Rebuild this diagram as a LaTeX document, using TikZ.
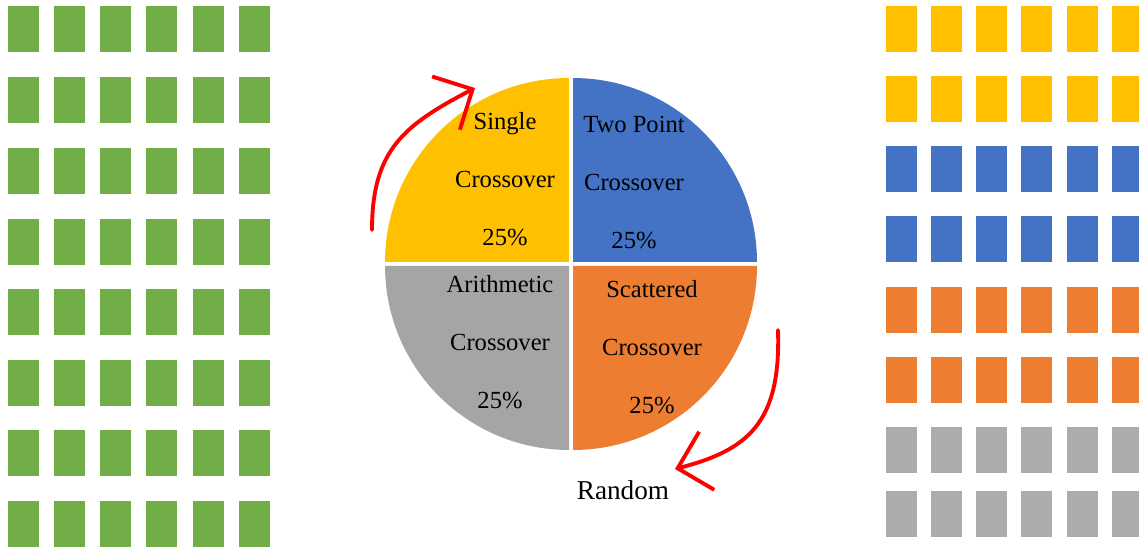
\documentclass[tikz,border=0pt]{standalone}
\usepackage{fontspec}
\setmainfont{Liberation Serif}
\usetikzlibrary{arrows.meta}
\definecolor{cgreen}{HTML}{70AD47}
\definecolor{cyellow}{HTML}{FFC000}
\definecolor{cblue}{HTML}{4472C4}
\definecolor{corange}{HTML}{ED7D31}
\definecolor{cgray}{HTML}{A5A5A5}
\definecolor{cgenegray}{HTML}{AEABAB}
\tikzset{
	slicelabel/.style={align=center,inner sep=0,font=\fontsize{14pt}{33pt}\selectfont},
	redarc/.style={draw=red,line width=2.2pt,line cap=round,-{Straight Barb[length=6mm,width=12mm]}}
}

\begin{document}
\begin{tikzpicture}[x=0.02cm,y=0.02cm]
\useasboundingbox (0,0) rectangle (1139,548);
\clip (0,0) rectangle (1139,548);
\foreach \y in {6,77,148,219,289,360,430,501}
	\foreach \x in {8,54,100,146,193,239}
		\fill[cgreen] (\x,548-\y) rectangle ++(31,-46);
\foreach \y/\c in {6/cyellow,76/cyellow,146/cblue,216/cblue,287/corange,357/corange,427/cgenegray,491/cgenegray}
	\foreach \x in {886,931,976,1021,1067,1112}
		\fill[\c] (\x,548-\y) rectangle ++(31,-46);
\fill[cyellow] (569,286)--++(-3.68cm,0) arc[start angle=180,end angle=90,radius=3.68cm]--cycle;
\fill[cblue] (573,286)--++(0,3.68cm) arc[start angle=90,end angle=0,radius=3.68cm]--cycle;
\fill[cgray] (569,282)--++(0,-3.68cm) arc[start angle=270,end angle=180,radius=3.68cm]--cycle;
\fill[corange] (573,282)--++(3.68cm,0) arc[start angle=0,end angle=-90,radius=3.68cm]--cycle;
\node[slicelabel] (single) at (505,369) {Single\\Crossover\\25\%};
\node[slicelabel] (twopoint) at (634,365) {Two Point\\Crossover\\25\%};
\node[slicelabel] (arith) at (500,206) {Arithmetic\\Crossover\\25\%};
\node[slicelabel] (scatter) at (652,201) {Scattered\\Crossover\\25\%};
\node[font=\fontsize{15.5pt}{18pt}\selectfont,inner sep=0] (random) at (623,58) {Random};
\coordinate (l0) at (372,318);
\coordinate (l1) at (475,460);
\coordinate (r0) at (778,218);
\coordinate (r1) at (675,79);
\draw[redarc] (l0) .. controls (372,398) and (404,423) .. (l1);
\draw[redarc] (r0) .. controls (781,125) and (748,98) .. (r1);
\end{tikzpicture}
\end{document}
